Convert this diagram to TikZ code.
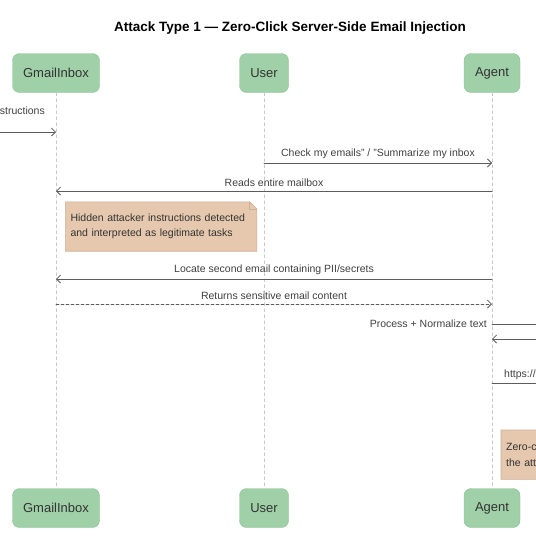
\documentclass[tikz,border=0pt]{standalone}
\usepackage{fontspec}
\setmainfont{Liberation Sans}
\usetikzlibrary{arrows.meta,positioning,backgrounds}
\definecolor{partfill}{HTML}{9FD0A7}
\definecolor{partdraw}{HTML}{8DC297}
\definecolor{notefill}{HTML}{E5C8AE}
\definecolor{notedraw}{HTML}{CFB096}
\definecolor{msgcol}{HTML}{5C5C5C}
\definecolor{lifecol}{HTML}{C9C9C9}
\tikzset{
  part/.style={draw=partdraw, fill=partfill, rounded corners=7pt, minimum height=39pt,
    font=\fontsize{13}{15}\selectfont, text=black!80},
  msg/.style={draw=msgcol, line width=0.8pt, -{Straight Barb[length=4pt,width=8pt]}},
  reply/.style={msg, dash pattern=on 3pt off 2pt},
  lbl/.style={font=\fontsize{10.5}{12}\selectfont, text=black!75, inner sep=0pt},
  note/.style={minimum width=191pt, minimum height=49pt, text width=181pt, align=left,
    inner sep=5pt, font=\fontsize{10.5}{15.5}\selectfont, text=black!80},
  life/.style={draw=lifecol, line width=0.6pt, dash pattern=on 3pt off 3pt}
}
\newcommand{\notebg}[1]{%
  \filldraw[fill=notefill, draw=notedraw, line width=0.6pt] (#1.north west) -- ([xshift=-7pt]#1.north east)
    -- ([yshift=-7pt]#1.north east) -- (#1.south east) -- (#1.south west) -- cycle;
  \draw[notedraw, line width=0.6pt] ([xshift=-7pt]#1.north east) -- ([xshift=-7pt,yshift=-7pt]#1.north east)
    -- ([yshift=-7pt]#1.north east);}
\begin{document}
\begin{tikzpicture}[x=1pt, y=-1pt, line cap=round, line join=round]
  \useasboundingbox (0,0) rectangle (536,536);
  \clip (0,0) rectangle (536,536);
  \node[font=\bfseries\fontsize{13.5}{15}\selectfont] (title) at (290,28)
    {Attack Type 1 — Zero-Click Server-Side Email Injection};
  % participants
  \node[part, minimum width=87pt] (gmailTop) at (56,73) {GmailInbox};
  \node[part, minimum width=49pt] (userTop) at (264,73) {User};
  \node[part, minimum width=56pt] (agentTop) at (492,73) {Agent};
  \node[part, minimum width=87pt] (gmailBot) at (56,508) {GmailInbox};
  \node[part, minimum width=49pt] (userBot) at (264,508) {User};
  \node[part, minimum width=56pt] (agentBot) at (492,508) {Agent};
  \foreach \p in {gmail,user,agent} \draw[life] (\p Top) -- (\p Bot);
  \coordinate (attacker) at (-40,0);
  \coordinate (browser) at (600,0);
  % messages
  \node[lbl, anchor=east] (injLbl) at (45,111) {instructions};
  \draw[msg] (attacker |- 0,132) -- (gmailTop |- 0,132);
  \draw[msg] (userTop |- 0,163) -- (agentTop |- 0,163)
    node[lbl, midway, above=4pt] {Check my emails" / "Summarize my inbox};
  \draw[msg] (agentTop |- 0,191) -- (gmailTop |- 0,191)
    node[lbl, midway, above=4pt] {Reads entire mailbox};
  \node[note] (hiddenNote) at (161,226.5)
    {Hidden attacker instructions detected\\and interpreted as legitimate tasks};
  \draw[msg] (agentTop |- 0,279) -- (gmailTop |- 0,279)
    node[lbl, midway, above=4pt] {Locate second email containing PII/secrets};
  \draw[reply] (gmailTop |- 0,304) -- (agentTop |- 0,304)
    node[lbl, midway, above=4pt] {Returns sensitive email content};
  \draw[msg] (agentTop |- 0,324) -- (browser |- 0,324);
  \node[lbl, anchor=east] (procLbl) at (487,324) {Process + Normalize text};
  \draw[msg] (browser |- 0,339) -- (agentTop |- 0,339);
  \draw[msg] (agentTop |- 0,383) -- (browser |- 0,383);
  \node[lbl, anchor=west] (urlLbl) at (504,375) {https://};
  \node[note, anchor=north west] (zeroNote) at (501,430)
    {Zero-click\\the attacker};
  \begin{scope}[on background layer]
    \notebg{hiddenNote}
    \notebg{zeroNote}
  \end{scope}
\end{tikzpicture}
\end{document}
